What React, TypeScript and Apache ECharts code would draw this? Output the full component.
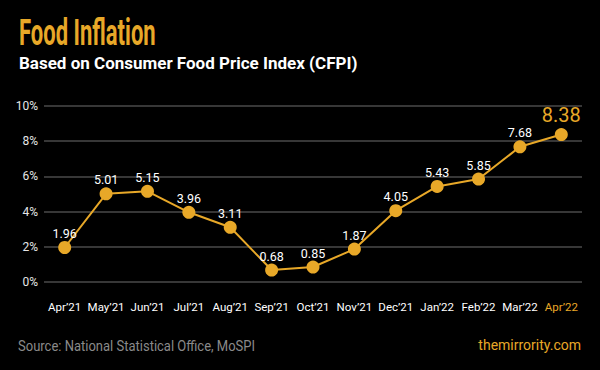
import React, { useEffect, useRef } from "react";
import * as echarts from "echarts";

const months = ["Apr’21", "May’21", "Jun’21", "Jul’21", "Aug’21", "Sep’21", "Oct’21", "Nov’21", "Dec’21", "Jan’22", "Feb’22", "Mar’22", "Apr’22"];
const inflation = [1.96, 5.01, 5.15, 3.96, 3.11, 0.68, 0.85, 1.87, 4.05, 5.43, 5.85, 7.68, 8.38];
const yTicks = [0, 2, 4, 6, 8, 10];

const GOLD = "#e8a828";
const FONT = "Roboto, 'Noto Sans', sans-serif";

export default function App() {
  const ref = useRef<HTMLDivElement>(null);
  useEffect(() => {
    if (!ref.current) return;
    const chart = echarts.init(ref.current, null, { renderer: "svg" });
    const last = inflation.length - 1;
    chart.setOption({
      animation: false,
      backgroundColor: "#000000",
      textStyle: { fontFamily: FONT },
      grid: { left: 44, right: 18, top: 106, bottom: 88 },
      xAxis: {
        type: "category",
        data: months,
        boundaryGap: true,
        axisLine: { show: false },
        axisTick: { show: false },
        axisLabel: {
          margin: 19,
          fontSize: 11.5,
          fontFamily: FONT,
          interval: 0,
          color: (_v: string, i: number) => (i === last ? GOLD : "#ffffff"),
        },
      },
      yAxis: {
        type: "value",
        min: yTicks[0],
        max: yTicks[yTicks.length - 1],
        interval: 2,
        axisLine: { show: false },
        axisTick: { show: false },
        axisLabel: { formatter: "{value}%", color: "#e6e6e6", fontSize: 12, margin: 6, fontFamily: FONT },
        splitLine: { lineStyle: { color: "#4a4a4a", width: 1.5 } },
      },
      series: [
        {
          type: "line",
          data: inflation.map((v, i) =>
            i === last
              ? { value: v, label: { color: GOLD, fontSize: 20, distance: 3 } }
              : v
          ),
          symbol: "circle",
          symbolSize: 13,
          lineStyle: { color: GOLD, width: 2 },
          itemStyle: { color: GOLD },
          label: {
            show: true,
            position: "top",
            distance: 1,
            color: "#ffffff",
            fontSize: 12.5,
            fontFamily: FONT,
            formatter: (p: any) => p.value.toFixed(2),
          },
        },
      ],
      graphic: [
        {
          type: "text",
          left: 19,
          top: 14,
          scaleX: 0.595,
          style: { text: "Food Inflation", fill: GOLD, font: `bold 37px ${FONT}` },
        },
        {
          type: "text",
          left: 19,
          top: 54,
          style: { text: "Based on Consumer Food Price Index (CFPI)", fill: "#ffffff", font: `bold 17px ${FONT}` },
        },
        {
          type: "text",
          left: 18,
          top: 339,
          scaleX: 0.93,
          style: { text: "Source: National Statistical Office, MoSPI", fill: "#8a8a8a", font: `14px ${FONT}` },
        },
        {
          type: "text",
          right: 19,
          top: 338,
          style: { text: "themirrority.com", fill: GOLD, font: `14px ${FONT}` },
        },
      ],
    });
    return () => chart.dispose();
  }, []);
  return <div ref={ref} style={{ width: 600, height: 370, position: "fixed", left: 0, top: 0 }} />;
}
